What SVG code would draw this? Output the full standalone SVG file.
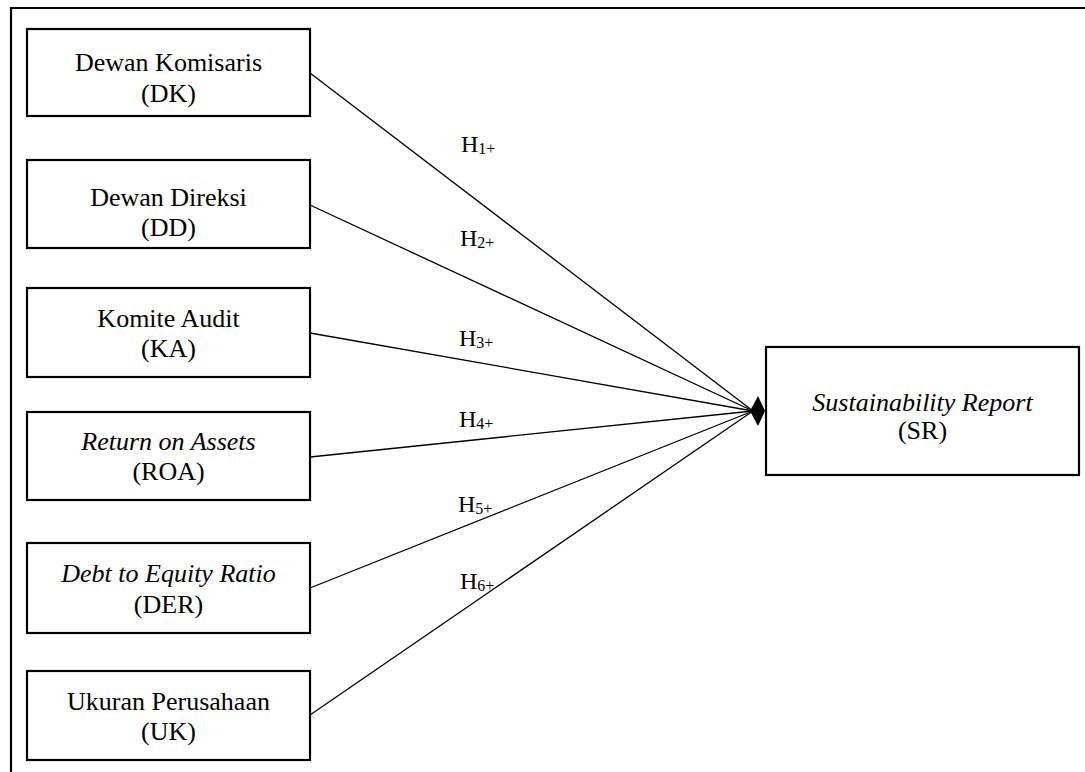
<svg xmlns="http://www.w3.org/2000/svg" width="1085" height="772" viewBox="0 0 1085 772">
<style>
.box{fill:#fff;stroke:#000;stroke-width:2.2}
.t{font-family:'Liberation Serif','Times New Roman',Times,'DejaVu Serif','Noto Serif',serif;font-size:26px;fill:#000;text-anchor:middle}
.i{font-style:italic}
.h{font-family:'Liberation Serif','Times New Roman',Times,'DejaVu Serif','Noto Serif',serif;font-size:24px;fill:#000}
.s{font-size:16px}
.c{stroke:#000;stroke-width:1.3;fill:none}
</style>
<rect x="0" y="0" width="1085" height="772" fill="#fff"/>
<path d="M11,772 V8 H1085" fill="none" stroke="#000" stroke-width="2.2"/>
<g id="connectors">
<line class="c" x1="310" y1="73" x2="753" y2="411"/>
<line class="c" x1="310" y1="205" x2="753" y2="411"/>
<line class="c" x1="310" y1="333" x2="753" y2="411"/>
<line class="c" x1="310" y1="457" x2="753" y2="411"/>
<line class="c" x1="310" y1="588" x2="753" y2="411"/>
<line class="c" x1="310" y1="715" x2="753" y2="411"/>
<polygon points="750,411 758,396 765,411 758,426" fill="#000"/>
<text class="h" x="461" y="152">H<tspan class="s" dy="2">1+</tspan></text>
<text class="h" x="460" y="246">H<tspan class="s" dy="2">2+</tspan></text>
<text class="h" x="459" y="346">H<tspan class="s" dy="2">3+</tspan></text>
<text class="h" x="459" y="427">H<tspan class="s" dy="2">4+</tspan></text>
<text class="h" x="458" y="512">H<tspan class="s" dy="2">5+</tspan></text>
<text class="h" x="460" y="589">H<tspan class="s" dy="2">6+</tspan></text>
</g>
<g id="DK">
<rect class="box" x="27" y="29" width="283" height="87"/>
<text class="t" x="168.5" y="71">Dewan Komisaris</text>
<text class="t" x="168.5" y="102">(DK)</text>
</g>
<g id="DD">
<rect class="box" x="27" y="160" width="283" height="88"/>
<text class="t" x="168.5" y="206">Dewan Direksi</text>
<text class="t" x="168.5" y="236">(DD)</text>
</g>
<g id="KA">
<rect class="box" x="27" y="288" width="283" height="89"/>
<text class="t" x="168.5" y="327">Komite Audit</text>
<text class="t" x="168.5" y="357">(KA)</text>
</g>
<g id="ROA">
<rect class="box" x="27" y="412" width="283" height="88"/>
<text class="t i" x="168.5" y="450">Return on Assets</text>
<text class="t" x="168.5" y="480">(ROA)</text>
</g>
<g id="DER">
<rect class="box" x="27" y="543" width="283" height="90"/>
<text class="t i" x="168.5" y="582">Debt to Equity Ratio</text>
<text class="t" x="168.5" y="613">(DER)</text>
</g>
<g id="UK">
<rect class="box" x="27" y="671" width="283" height="89"/>
<text class="t" x="168.5" y="710">Ukuran Perusahaan</text>
<text class="t" x="168.5" y="740">(UK)</text>
</g>
<g id="SR">
<rect class="box" x="766" y="347" width="313" height="128"/>
<text class="t i" x="922.5" y="411">Sustainability Report</text>
<text class="t" x="922.5" y="439">(SR)</text>
</g>
</svg>
